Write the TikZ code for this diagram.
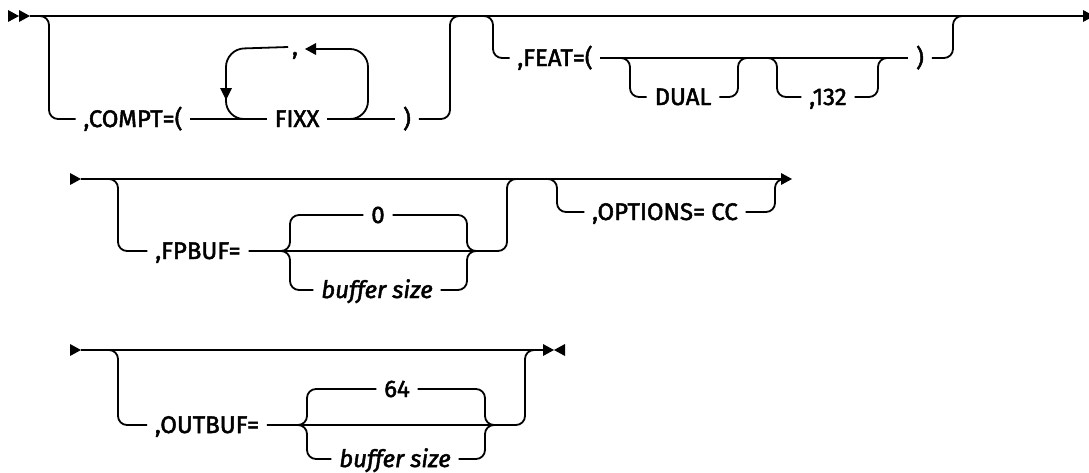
\documentclass[tikz,border=0pt]{standalone}
\usepackage{fontspec}
\setmainfont{Fira Sans}[FakeBold=2]
\begin{document}
\begin{tikzpicture}[x=1pt,y=-1pt, line width=1.8pt,
  rc/.style={rounded corners=9pt},
  rcbig/.style={rounded corners=18pt},
  lbl/.style={inner xsep=7pt, inner ysep=0pt, text height=16pt, text depth=0pt, font=\fontsize{24}{28}\selectfont},
  var/.style={lbl, font=\fontsize{24}{28}\selectfont\itshape},
  rtip/.pic={\fill (-11,-6) -- (0,0) -- (-11,6) -- cycle;},
  ltip/.pic={\fill (11,-6) -- (0,0) -- (11,6) -- cycle;},
  dtip/.pic={\fill (-6,-12) -- (0,0) -- (6,-12) -- cycle;}]
\useasboundingbox (0,0) rectangle (1089,472);

% ---------- row 1 ----------
\coordinate (s1) at (30,16);
\coordinate (e1) at (1083,16);
\pic at (19,16) {rtip};
\pic at (30,16) {rtip};
\draw (s1) -- (e1);
\pic at (1094,16) {rtip};

\node[lbl] (compt) at (133,119) {,COMPT=(};
\node[lbl] (fixx) at (297,119) {FIXX};
\node[lbl] (rp1) at (407,119) {)};
\node[lbl,inner xsep=3pt] (comma) at (295,47) {,};

\draw[rc] (39,16) -- (49,16) -- (49,119) -- (compt.west);
\draw (compt.east) -- (fixx.west);
\draw (fixx.east) -- (rp1.west);
\draw[rc] (rp1.east) -- (450,119) -- (450,16) -- (460,16);
% repeat loop
\draw[rcbig] (comma.west) -- (226,49) -- (226,119) -- (252,119);
\draw[rcbig] (342,119) -- (368,119) -- (368,49) -- (316,49);
\pic at (305,49) {ltip};
\pic at (226,100) {dtip};

\node[lbl] (feat) at (555,58) {,FEAT=(};
\node[lbl] (dual) at (683,97) {DUAL};
\node[lbl] (n132) at (828,97) {,132};
\node[lbl] (rp2) at (920,58) {)};
\draw[rc] (483,16) -- (493,16) -- (493,58) -- (feat.west);
\draw (feat.east) -- (rp2.west);
\draw[rc] (620,58) -- (630,58) -- (630,97) -- (dual.west);
\draw[rc] (dual.east) -- (738,97) -- (738,58) -- (748,58);
\draw[rc] (767,58) -- (777,58) -- (777,97) -- (n132.west);
\draw[rc] (n132.east) -- (878,97) -- (878,58) -- (888,58);
\draw[rc] (rp2.east) -- (953,58) -- (953,16) -- (963,16);

% ---------- row 2 ----------
\coordinate (s2) at (81,179);
\coordinate (e2) at (781,179);
\pic at (81,179) {rtip};
\draw (s2) -- (e2);
\pic at (792,179) {rtip};

\node[lbl] (fpbuf) at (198,251) {,FPBUF=};
\node[lbl] (zero) at (378,215) {0};
\node[var] (bs1) at (377,290) {buffer size};
\draw[rc] (108,179) -- (118,179) -- (118,251) -- (fpbuf.west);
\draw[rc] (fpbuf.east) -- (507,251) -- (507,179) -- (517,179);
\draw[rc] (280,251) -- (290,251) -- (290,215) -- (zero.west);
\draw[rc] (zero.east) -- (467,215) -- (467,251) -- (477,251);
\draw[rc] (280,251) -- (290,251) -- (290,290) -- (bs1.west);
\draw[rc] (bs1.east) -- (467,290) -- (467,251) -- (477,251);

\node[lbl] (opt) at (665,212) {,OPTIONS= CC};
\draw[rc] (547,179) -- (557,179) -- (557,212) -- (opt.west);
\draw[rc] (opt.east) -- (775,212) -- (775,179) -- (785,179);

% ---------- row 3 ----------
\coordinate (s3) at (81,350);
\coordinate (e3) at (544,350);
\pic at (81,350) {rtip};
\draw (s3) -- (e3);
\pic at (554,350) {rtip};
\pic at (554,350) {ltip};

\node[lbl] (outbuf) at (207,425) {,OUTBUF=};
\node[lbl] (n64) at (397,389) {64};
\node[var] (bs2) at (395,459) {buffer size};
\draw[rc] (108,350) -- (118,350) -- (118,425) -- (outbuf.west);
\draw[rc] (outbuf.east) -- (525,425) -- (525,350) -- (535,350);
\draw[rc] (297,425) -- (307,425) -- (307,389) -- (n64.west);
\draw[rc] (n64.east) -- (485,389) -- (485,425) -- (495,425);
\draw[rc] (297,425) -- (307,425) -- (307,459) -- (bs2.west);
\draw[rc] (bs2.east) -- (485,459) -- (485,425) -- (495,425);
\end{tikzpicture}
\end{document}
